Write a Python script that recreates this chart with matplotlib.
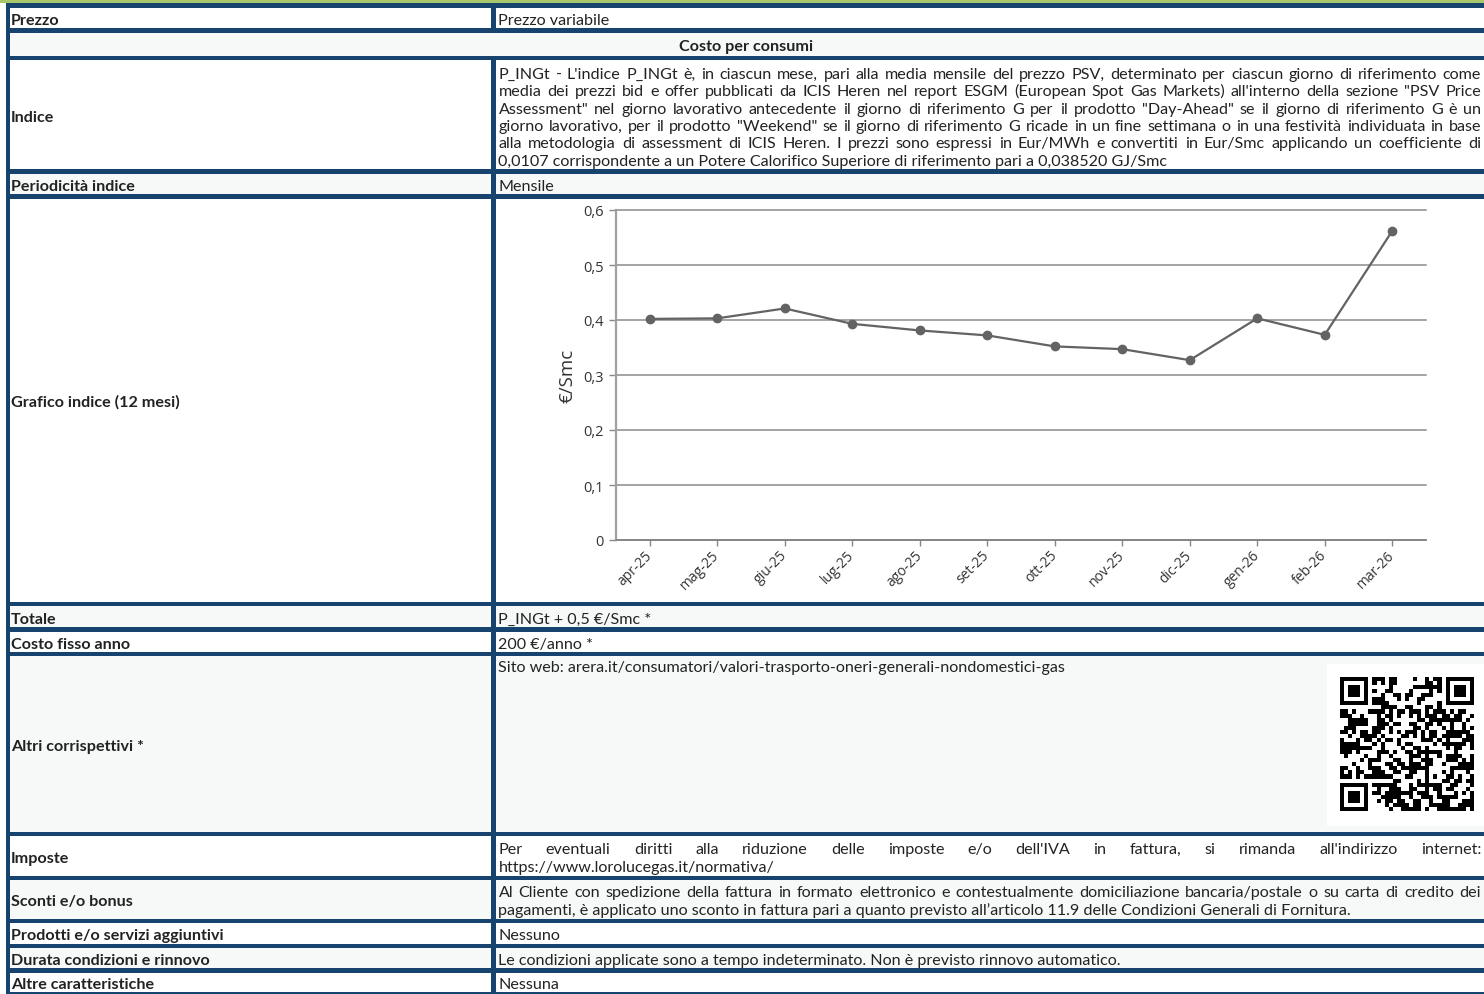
import hashlib
import numpy as np
import matplotlib
matplotlib.use("Agg")
import matplotlib.pyplot as plt
from matplotlib.patches import Rectangle
from matplotlib.ticker import FuncFormatter

W, H = 1484, 995
NAVY = "#17436f"
GREEN = "#a8c66a"
GREY_BG = "#f7f9f9"
TXT = "#222222"
FS = 11.6

plt.rcParams['font.family'] = ['Lato', 'DejaVu Sans']

# chart data
months = ["apr-25", "mag-25", "giu-25", "lug-25", "ago-25", "set-25",
          "ott-25", "nov-25", "dic-25", "gen-26", "feb-26", "mar-26"]
index_values = [0.402, 0.403, 0.421, 0.393, 0.381, 0.372,
                0.352, 0.347, 0.327, 0.403, 0.373, 0.562]

# table text
row_labels = ["Prezzo", "", "Indice", "Periodicità indice", "Grafico indice (12 mesi)",
              "Totale", "Costo fisso anno", "Altri corrispettivi *", "Imposte",
              "Sconti e/o bonus", "Prodotti e/o servizi aggiuntivi",
              "Durata condizioni e rinnovo", "Altre caratteristiche"]
section_title = "Costo per consumi"
indice_lines = [
    "P_INGt - L'indice P_INGt è, in ciascun mese, pari alla media mensile del prezzo PSV, determinato per ciascun giorno di riferimento come",
    "media dei prezzi bid e offer pubblicati da ICIS Heren nel report ESGM (European Spot Gas Markets) all'interno della sezione \"PSV Price",
    "Assessment\" nel giorno lavorativo antecedente il giorno di riferimento G per il prodotto \"Day-Ahead\" se il giorno di riferimento G è un",
    "giorno lavorativo, per il prodotto \"Weekend\" se il giorno di riferimento G ricade in un fine settimana o in una festività individuata in base",
    "alla metodologia di assessment di ICIS Heren. I prezzi sono espressi in Eur/MWh e convertiti in Eur/Smc applicando un coefficiente di",
    "0,0107 corrispondente a un Potere Calorifico Superiore di riferimento pari a 0,038520 GJ/Smc",
]
imposte_lines = [
    "Per eventuali diritti alla riduzione delle imposte e/o dell'IVA in fattura, si rimanda all'indirizzo internet:",
    "https://www.lorolucegas.it/normativa/",
]
sconti_lines = [
    "Al Cliente con spedizione della fattura in formato elettronico e contestualmente domiciliazione bancaria/postale o su carta di credito dei",
    "pagamenti, è applicato uno sconto in fattura pari a quanto previsto all’articolo 11.9 delle Condizioni Generali di Fornitura.",
]
qr_url = "arera.it/consumatori/valori-trasporto-oneri-generali-nondomestici-gas"
right_texts = {
    0: ["Prezzo variabile"],
    3: ["Mensile"],
    5: ["P_INGt + 0,5 €/Smc *"],
    6: ["200 €/anno *"],
    10: ["Nessuno"],
    11: ["Le condizioni applicate sono a tempo indeterminato. Non è previsto rinnovo automatico."],
    12: ["Nessuna"],
}

# layout (pixels)
borders = [6.5, 31.5, 59, 172.5, 197.5, 605, 630.5, 655, 835, 879, 922, 947, 971.5, 995.5]
BW = 4.6
LEFT, DIV = 8, 493.5
XL, XR, XR_END = 11, 498.5, 1481
LINE_H = 17.4
BASE = 5.3   # baseline offset below the visual centre of a line

fig = plt.figure(figsize=(W / 100, H / 100), dpi=100)
ax = fig.add_axes([0, 0, 1, 1])
ax.set_xlim(0, W)
ax.set_ylim(H, 0)
ax.axis("off")


def put(x, y, s, **kw):
    # y is the visual centre of the line; draw on the baseline
    return ax.text(x, y + BASE, s, fontsize=FS, color=TXT, va="baseline", zorder=4, **kw)


# backgrounds
for i in range(len(row_labels)):
    col = "white" if i % 2 == 0 else GREY_BG
    ax.add_patch(Rectangle((LEFT, borders[i]), W - LEFT, borders[i + 1] - borders[i],
                           facecolor=col, edgecolor="none", zorder=0))
ax.add_patch(Rectangle((0, 0), W, 4.3, facecolor=GREEN, edgecolor="none", zorder=3))

# borders
for yb in borders:
    ax.add_patch(Rectangle((LEFT - 2.3, yb - BW / 2), W, BW, facecolor=NAVY,
                           edgecolor="none", zorder=3))
ax.add_patch(Rectangle((LEFT - 2.3, borders[0]), BW, borders[-1] - borders[0],
                       facecolor=NAVY, edgecolor="none", zorder=3))
for i in range(len(row_labels)):
    if i == 1:
        continue
    ax.add_patch(Rectangle((DIV - BW / 2, borders[i]), BW, borders[i + 1] - borders[i],
                           facecolor=NAVY, edgecolor="none", zorder=3))

# left labels
for i, lab in enumerate(row_labels):
    if lab:
        put(XL, (borders[i] + borders[i + 1]) / 2 + 0.5, lab, fontweight="bold", ha="left")
put((LEFT + W) / 2, (borders[1] + borders[2]) / 2 + 0.5, section_title,
    fontweight="bold", ha="center")

# single line right texts
for i, lines in right_texts.items():
    put(XR, (borders[i] + borders[i + 1]) / 2 + 0.5, lines[0], ha="left")

renderer = fig.canvas.get_renderer()


def justified(line, y, x0=XR, x1=XR_END):
    words = line.split(" ")
    objs = [put(x0, y, w, ha="left") for w in words]
    widths = [o.get_window_extent(renderer).width for o in objs]
    gap = (x1 - x0 - sum(widths)) / (len(words) - 1)
    x = x0
    for o, w in zip(objs, widths):
        o.set_x(x)
        x += w + gap


def paragraph(lines, y0, justify_upto):
    for k, line in enumerate(lines):
        y = y0 + k * LINE_H
        if k < justify_upto:
            justified(line, y)
        else:
            put(XR, y, line, ha="left")


paragraph(indice_lines, 73.5, 5)
paragraph(imposte_lines, 849, 1)
paragraph(sconti_lines, 892, 1)
put(XR, 667, "Sito web: " + qr_url, ha="left")

# QR code block
n = 33
bits = []
k = 0
while len(bits) < n * n:
    for b in hashlib.sha256(f"{qr_url}{k}".encode()).digest():
        bits.extend((b >> j) & 1 for j in range(8))
    k += 1
qr = np.array(bits[:n * n]).reshape(n, n)
finder = np.ones((7, 7), dtype=int)
finder[1:6, 1:6] = 0
finder[2:5, 2:5] = 1
for (r, c) in [(0, 0), (0, n - 7), (n - 7, 0)]:
    qr[max(r - 1, 0):r + 8, max(c - 1, 0):c + 8] = 0
    qr[r:r + 7, c:c + 7] = finder
ax.add_patch(Rectangle((1327, 665), W - 1327, 162, facecolor="white",
                       edgecolor="none", zorder=1))
ax.imshow(qr, cmap="gray_r", interpolation="nearest", origin="upper",
          extent=(1340, 1474, 812, 678), zorder=2, aspect="auto")
ax.set_xlim(0, W)
ax.set_ylim(H, 0)

# chart
cx = fig.add_axes([616 / W, 1 - 541 / H, 810 / W, 330 / H])
cx.set_facecolor("white")
xs = np.arange(len(months))
cx.plot(xs, index_values, color="#636363", lw=1.6, marker="o", markersize=6,
        markerfacecolor="#636363", markeredgecolor="#636363", zorder=3)
cx.set_xlim(-0.5, len(months) - 0.5)
cx.set_ylim(0, 0.6)
cx.set_yticks([0, 0.1, 0.2, 0.3, 0.4, 0.5, 0.6])
cx.yaxis.set_major_formatter(FuncFormatter(
    lambda v, p: "0" if abs(v) < 1e-9 else f"{v:.1f}".replace(".", ",")))
cx.set_xticks(xs)
cx.set_xticklabels(months, rotation=45, ha="right", va="center",
                   rotation_mode="anchor", fontsize=10, color="#333333",
                   family=["Open Sans", "DejaVu Sans"])
for t in cx.get_yticklabels():
    t.set_fontsize(10.5)
    t.set_color("#333333")
    t.set_family(["Open Sans", "DejaVu Sans"])
cx.tick_params(axis="x", length=4, width=1, color="#888888", pad=5)
cx.tick_params(axis="y", length=5, width=1, color="#888888", pad=4)
cx.grid(axis="y", color="#8c8c8c", lw=1.1)
for gl in cx.get_ygridlines():
    gl.set_clip_on(False)
cx.set_axisbelow(True)
for s in ["top", "right"]:
    cx.spines[s].set_visible(False)
cx.spines["left"].set_color("#a0a0a0")
cx.spines["left"].set_linewidth(1.6)
cx.spines["bottom"].set_color("#808080")
cx.spines["bottom"].set_linewidth(1.1)
cx.set_ylabel("€/Smc", fontsize=13.5, color="#333333",
              family=["Open Sans", "DejaVu Sans"])
cx.yaxis.set_label_coords(-0.049, 0.5)

fig.savefig("out.png", dpi=100)
